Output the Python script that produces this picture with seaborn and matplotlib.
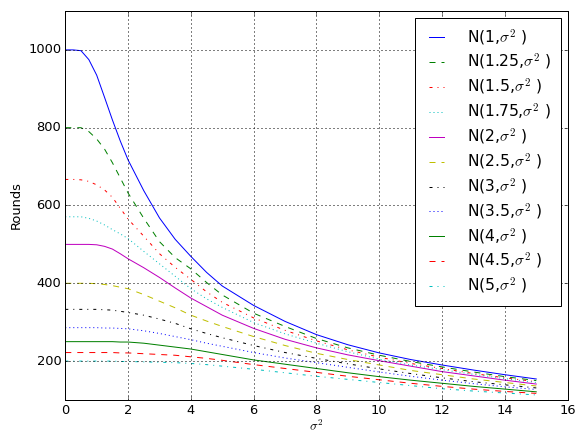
import matplotlib
matplotlib.use("Agg")
import matplotlib.pyplot as plt
import seaborn as sns
import pandas as pd

# sigma^2 sample positions
sigma2 = [0, 0.25, 0.5, 0.75, 1, 1.25, 1.5, 1.75, 2, 2.5, 3, 3.5, 4, 4.5, 5,
          6, 7, 8, 9, 10, 11, 12, 13, 14, 15]

means = ["1", "1.25", "1.5", "1.75", "2", "2.5", "3", "3.5", "4", "4.5", "5"]

r_1_00 = [1000, 1000, 998, 975, 935, 878, 820, 766, 717, 638, 568, 513, 469, 428, 393,
          343, 302, 268, 242, 221, 204, 190, 177, 165, 154]
r_1_25 = [800, 800, 800, 790, 771, 745, 710, 671, 632, 567, 507, 466, 437, 402, 370,
          323, 289, 258, 234, 215, 199, 185, 172, 160, 150]
r_1_50 = [667, 667, 666, 662, 653, 640, 621, 593, 565, 521, 476, 441, 410, 378, 351,
          311, 279, 252, 229, 210, 194, 181, 168, 157, 147]
r_1_75 = [571, 571, 571, 567, 560, 550, 538, 527, 515, 482, 450, 418, 386, 360, 338,
          299, 270, 246, 224, 205, 190, 178, 166, 155, 145]
r_2_00 = [500, 500, 500, 500, 499, 495, 488, 476, 463, 440, 415, 388, 362, 340, 318,
          284, 256, 234, 216, 201, 187, 173, 162, 151, 141]
r_2_50 = [400, 400, 400, 400, 399, 397, 394, 390, 386, 371, 354, 337, 318, 303, 289,
          263, 240, 220, 204, 190, 176, 165, 154, 145, 136]
r_3_00 = [333, 333, 333, 333, 333, 332, 331, 328, 325, 318, 308, 297, 283, 271, 260,
          240, 222, 207, 193, 180, 168, 157, 147, 139, 131]
r_3_50 = [286, 286, 286, 286, 286, 285, 285, 284, 283, 278, 271, 263, 255, 246, 238,
          222, 208, 196, 184, 172, 161, 151, 142, 134, 127]
r_4_00 = [250, 250, 250, 250, 250, 250, 250, 249, 249, 246, 241, 236, 231, 224, 217,
          203, 192, 181, 170, 160, 151, 143, 135, 128, 121]
r_4_50 = [222, 222, 222, 222, 222, 222, 222, 221, 221, 219, 217, 215, 211, 207, 202,
          191, 181, 171, 161, 152, 143, 135, 128, 122, 117]
r_5_00 = [200, 200, 200, 200, 200, 200, 200, 199, 199, 198, 197, 196, 194, 191, 187,
          179, 170, 161, 153, 145, 137, 129, 123, 118, 113]

series = [r_1_00, r_1_25, r_1_50, r_1_75, r_2_00, r_2_50, r_3_00, r_3_50,
          r_4_00, r_4_50, r_5_00]

colors = ["b", "g", "r", "c", "m", "y", "k", "b", "g", "r", "c"]
styles = ["-", "--", "-.", ":", "-", "--", "-.", ":", "-", "--", "-."]

plt.style.use("classic")
plt.rcParams["figure.facecolor"] = "white"
plt.rcParams["savefig.facecolor"] = "white"

fig = plt.figure(figsize=(8, 434 / 72), dpi=72)
ax = fig.add_axes([65.3 / 576, 1 - 400 / 434, (567.7 - 65.3) / 576, (400 - 11) / 434])

for mu, vals, c, ls in zip(means, series, colors, styles):
    df = pd.DataFrame({"sigma2": sigma2, "rounds": vals})
    sns.lineplot(data=df, x="sigma2", y="rounds", ax=ax, color=c,
                 linestyle=ls, linewidth=1.0, label="N(%s,$\\sigma^2$ )" % mu)

ax.set_xlim(0, 16)
ax.set_ylim(100, 1100)
ax.set_xticks(range(0, 17, 2))
ax.set_yticks([200, 400, 600, 800, 1000])
ax.grid(True, color="k", linestyle=":", linewidth=1.0)
ax.set_xlabel("$\\sigma^2$", fontsize=13, labelpad=2)
ax.set_ylabel("Rounds", fontsize=13)
ax.tick_params(labelsize=13)

leg = ax.legend(loc="upper right", fontsize=15.5, handlelength=1.55,
                handletextpad=1.2, borderpad=0.6, labelspacing=0.3,
                borderaxespad=0.45, fancybox=False, frameon=True)
leg.get_frame().set_edgecolor("k")
leg.get_frame().set_linewidth(1.0)

fig.savefig("out.png", dpi=72)
